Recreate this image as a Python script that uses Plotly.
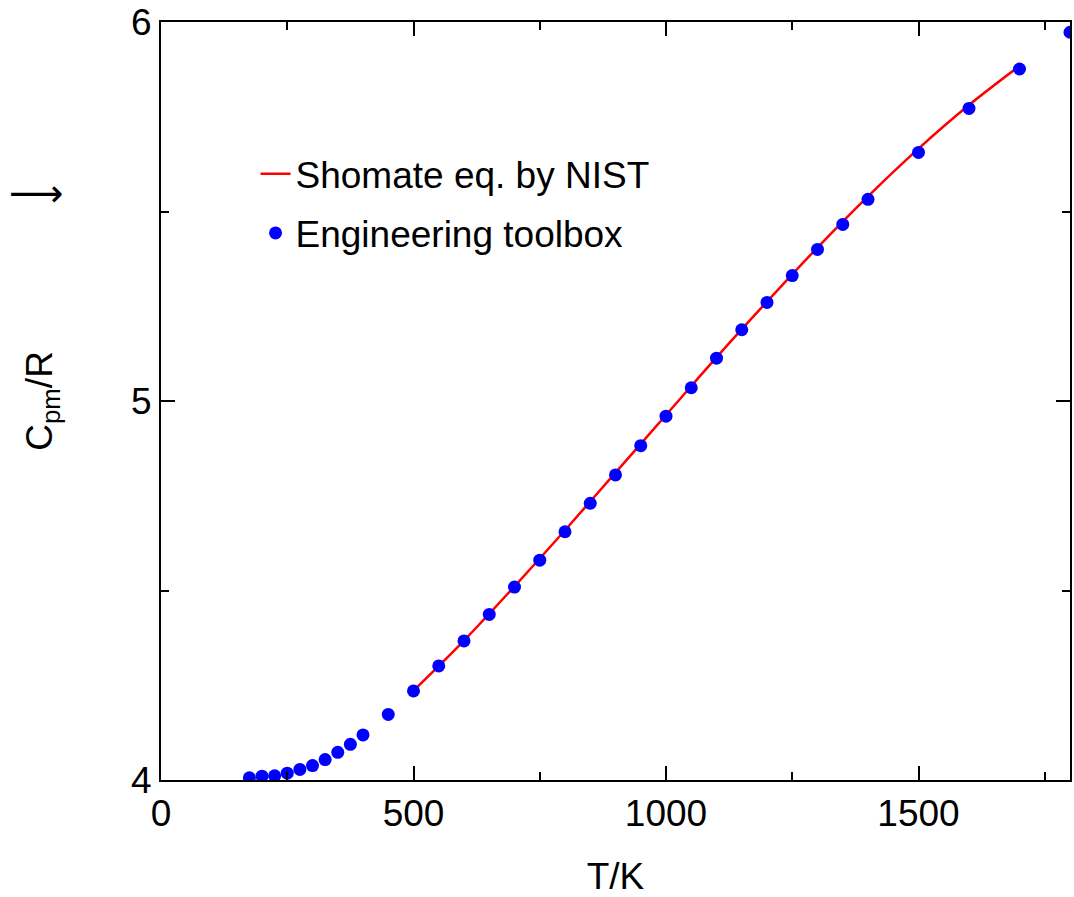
import plotly.graph_objects as go

# Engineering toolbox data points (T in K, Cpm/R)
toolbox_T = [175, 200, 225, 250, 275, 300, 325, 350, 375, 400, 450, 500,
             550, 600, 650, 700, 750, 800, 850, 900, 950, 1000, 1050, 1100,
             1150, 1200, 1250, 1300, 1350, 1400, 1500, 1600, 1700, 1800]
toolbox_cp = [4.006, 4.010, 4.011, 4.018, 4.028, 4.038, 4.054, 4.073, 4.094, 4.119, 4.173, 4.235,
              4.301, 4.367, 4.437, 4.509, 4.580, 4.655, 4.730, 4.805, 4.882, 4.960, 5.035, 5.113,
              5.188, 5.260, 5.331, 5.400, 5.466, 5.532, 5.656, 5.772, 5.876, 5.973]

# Shomate equation curve (NIST)
shomate_T = [500, 600, 700, 800, 900, 1000, 1100, 1200, 1300, 1400, 1500, 1600, 1700]
shomate_cp = [4.236, 4.368, 4.511, 4.659, 4.811, 4.963, 5.115, 5.262, 5.405, 5.540, 5.666, 5.781, 5.884]

x_ticks = [0, 500, 1000, 1500]
y_ticks = [4, 5, 6]

FONT = "Liberation Sans, Arial, Helvetica, sans-serif"

fig = go.Figure()
fig.add_trace(go.Scatter(
    x=shomate_T, y=shomate_cp, mode="lines", name="Shomate eq. by NIST",
    legendgroup="a",
    line=dict(color="#ff0000", width=2.5, shape="spline"),
))
fig.add_trace(go.Scatter(
    x=toolbox_T, y=toolbox_cp, mode="markers", name="Engineering toolbox",
    legendgroup="b",
    marker=dict(color="#0000ff", size=13),
    cliponaxis=True,
))

fig.update_layout(
    width=1074, height=897,
    margin=dict(l=161, r=4, t=22, b=117, autoexpand=False),
    paper_bgcolor="white", plot_bgcolor="white",
    font=dict(family=FONT, size=37, color="black"),
    showlegend=True,
    legend=dict(x=0.104, y=0.84, xanchor="left", yanchor="top",
                bgcolor="rgba(0,0,0,0)", font=dict(size=37), tracegroupgap=8),
    xaxis=dict(
        range=[0, 1800], tickvals=x_ticks, ticktext=[str(v) for v in x_ticks],
        ticks="inside", ticklen=14, tickwidth=1.5, tickcolor="black",
        showline=True, linecolor="black", linewidth=2, mirror="allticks",
        showgrid=False, zeroline=False, automargin=False,
        minor=dict(ticks="inside", ticklen=8, tickwidth=1.5, tickcolor="black", dtick=250, tick0=0, showgrid=False),
        title=dict(text="T/K", font=dict(size=37), standoff=30),
        tickfont=dict(size=37),
    ),
    yaxis=dict(
        range=[4, 6], tickvals=y_ticks, ticktext=[str(v) for v in y_ticks],
        ticks="inside", ticklen=14, tickwidth=1.5, tickcolor="black",
        showline=True, linecolor="black", linewidth=2, mirror="allticks",
        showgrid=False, zeroline=False, automargin=False,
        minor=dict(ticks="inside", ticklen=8, tickwidth=1.5, tickcolor="black", dtick=0.5, tick0=4, showgrid=False),
        title=dict(text="C<sub>pm</sub>/R", font=dict(size=37), standoff=67),
        tickfont=dict(size=37),
    ),
)

fig.add_annotation(
    text="⟶", xref="paper", yref="paper", x=-0.138, y=0.774,
    xanchor="center", yanchor="middle", showarrow=False,
    font=dict(size=38, family="DejaVu Sans", color="black"),
)

fig.write_html(
    "out.html",
    config={"displayModeBar": False},
    post_script="document.body.style.margin='0';document.body.style.overflow='hidden';",
)
